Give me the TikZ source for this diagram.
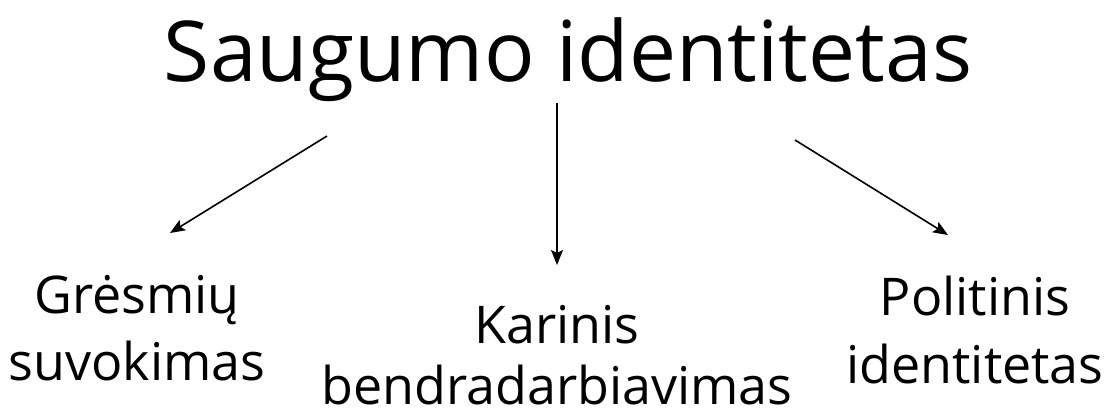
\documentclass[tikz,border=0pt]{standalone}
\usepackage{fontspec}
\setmainfont{Open Sans}
\usetikzlibrary{arrows.meta}
\tikzset{
  title/.style={anchor=base, inner sep=0pt, font=\fontsize{84}{94}\selectfont},
  label/.style={anchor=base, inner sep=0pt, font=\fontsize{52}{60}\selectfont},
  link/.style={line width=1.6pt, -{Stealth[length=15pt,width=12pt,inset=3pt]}}
}
\begin{document}
\begin{tikzpicture}[x=1pt,y=-1pt]
  \useasboundingbox (0,0) rectangle (1105,414);
  % heading
  \node[title] (top) at (568,82) {Saugumo identitetas};
  % three branches
  \node[label] (g1) at (137,313) {Grėsmių};
  \node[label] (g2) at (137,380) {suvokimas};
  \node[label] (k1) at (557,343) {Karinis};
  \node[label, text depth=0pt] (k2) at (557,404) {bendradarbiavimas};
  \node[label] (p1) at (975,315) {Politinis};
  \node[label] (p2) at (975,383) {identitetas};
  % arrow ends
  \coordinate (a1s) at (327,136);
  \coordinate (a1e) at (170,233);
  \coordinate (a2s) at (557,103);
  \coordinate (a2e) at (557,265);
  \coordinate (a3s) at (795,140);
  \coordinate (a3e) at (948,235);
  \draw[link] (a1s) -- (a1e);
  \draw[link] (a2s) -- (a2e);
  \draw[link] (a3s) -- (a3e);
\end{tikzpicture}
\end{document}
